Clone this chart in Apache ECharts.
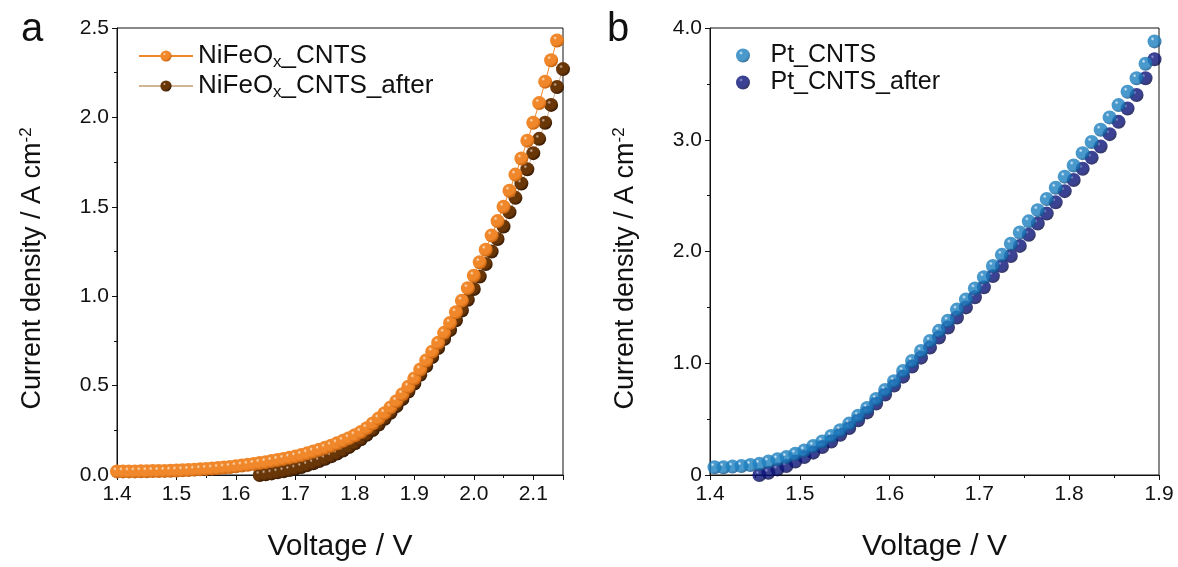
<!DOCTYPE html>
<html>
<head>
<meta charset="utf-8">
<script src="https://cdn.jsdelivr.net/npm/echarts@6/dist/echarts.min.js"></script>
<style>
  html, body { margin: 0; padding: 0; background: #fff; }
  #chart { width: 1178px; height: 567px; }
</style>
</head>
<body>
<div id="chart"></div>
<script>
// panel a: NiFeOx_CNTS
const voltA = [1.40, 1.41, 1.42, 1.43, 1.44, 1.45, 1.46, 1.47, 1.48, 1.49,
  1.50, 1.51, 1.52, 1.53, 1.54, 1.55, 1.56, 1.57, 1.58, 1.59,
  1.60, 1.61, 1.62, 1.63, 1.64, 1.65, 1.66, 1.67, 1.68, 1.69,
  1.70, 1.71, 1.72, 1.73, 1.74, 1.75, 1.76, 1.77, 1.78, 1.79,
  1.80, 1.81, 1.82, 1.83, 1.84, 1.85, 1.86, 1.87, 1.88, 1.89,
  1.90, 1.91, 1.92, 1.93, 1.94, 1.95, 1.96, 1.97, 1.98, 1.99,
  2.00, 2.01, 2.02, 2.03, 2.04, 2.05, 2.06, 2.07, 2.08, 2.09,
  2.10, 2.11, 2.12, 2.13, 2.14]
const curA = [0.020, 0.020, 0.020, 0.020, 0.021, 0.021, 0.022, 0.022, 0.023, 0.024,
  0.025, 0.026, 0.028, 0.030, 0.032, 0.034, 0.036, 0.039, 0.042, 0.045,
  0.049, 0.053, 0.057, 0.062, 0.067, 0.072, 0.078, 0.084, 0.090, 0.097,
  0.104, 0.112, 0.121, 0.131, 0.141, 0.152, 0.164, 0.177, 0.191, 0.206,
  0.222, 0.240, 0.262, 0.288, 0.316, 0.346, 0.378, 0.413, 0.452, 0.494,
  0.540, 0.59, 0.64, 0.69, 0.74, 0.795, 0.85, 0.91, 0.975, 1.045,
  1.115, 1.19, 1.26, 1.34, 1.42, 1.50, 1.59, 1.68, 1.77, 1.87,
  1.97, 2.08, 2.20, 2.32, 2.43]

const voltAAfter = [1.64, 1.65, 1.66, 1.67, 1.68, 1.69,
  1.70, 1.71, 1.72, 1.73, 1.74, 1.75, 1.76, 1.77, 1.78, 1.79,
  1.80, 1.81, 1.82, 1.83, 1.84, 1.85, 1.86, 1.87, 1.88, 1.89,
  1.90, 1.91, 1.92, 1.93, 1.94, 1.95, 1.96, 1.97, 1.98, 1.99,
  2.00, 2.01, 2.02, 2.03, 2.04, 2.05, 2.06, 2.07, 2.08, 2.09,
  2.10, 2.11, 2.12, 2.13, 2.14, 2.15]
const curAAfter = [0.000, 0.004, 0.009, 0.015, 0.021, 0.028,
  0.036, 0.045, 0.055, 0.066, 0.078, 0.091, 0.105, 0.120, 0.137, 0.156,
  0.177, 0.200, 0.225, 0.252, 0.282, 0.314, 0.348, 0.385, 0.425, 0.467,
  0.512, 0.56, 0.61, 0.66, 0.71, 0.76, 0.81, 0.865, 0.92, 0.98,
  1.04, 1.11, 1.18, 1.25, 1.32, 1.39, 1.47, 1.55, 1.63, 1.71,
  1.80, 1.88, 1.97, 2.07, 2.17, 2.27]

// panel b: Pt_CNTS
const voltB = [1.405, 1.415, 1.425, 1.435, 1.445, 1.455, 1.465, 1.475, 1.485, 1.495,
  1.505, 1.515, 1.525, 1.535, 1.545, 1.555, 1.565, 1.575, 1.585, 1.595,
  1.605, 1.615, 1.625, 1.635, 1.645, 1.655, 1.665, 1.675, 1.685, 1.695,
  1.705, 1.715, 1.725, 1.735, 1.745, 1.755, 1.765, 1.775, 1.785, 1.795,
  1.805, 1.815, 1.825, 1.835, 1.845, 1.855, 1.865, 1.875, 1.885, 1.895]
const curB = [0.07, 0.07, 0.075, 0.08, 0.09, 0.10, 0.12, 0.14, 0.16, 0.19,
  0.22, 0.26, 0.30, 0.35, 0.40, 0.46, 0.53, 0.60, 0.68, 0.76,
  0.84, 0.93, 1.02, 1.11, 1.20, 1.29, 1.38, 1.48, 1.57, 1.67,
  1.77, 1.87, 1.97, 2.07, 2.17, 2.27, 2.37, 2.47, 2.57, 2.67,
  2.77, 2.88, 2.98, 3.09, 3.20, 3.31, 3.43, 3.55, 3.68, 3.88]

const voltBAfter = [1.455, 1.465, 1.475, 1.485, 1.495,
  1.505, 1.515, 1.525, 1.535, 1.545, 1.555, 1.565, 1.575, 1.585, 1.595,
  1.605, 1.615, 1.625, 1.635, 1.645, 1.655, 1.665, 1.675, 1.685, 1.695,
  1.705, 1.715, 1.725, 1.735, 1.745, 1.755, 1.765, 1.775, 1.785, 1.795,
  1.805, 1.815, 1.825, 1.835, 1.845, 1.855, 1.865, 1.875, 1.885, 1.895]
const curBAfter = [0.00, 0.02, 0.05, 0.08, 0.12,
  0.16, 0.20, 0.25, 0.30, 0.36, 0.42, 0.49, 0.56, 0.64, 0.72,
  0.80, 0.88, 0.97, 1.05, 1.14, 1.23, 1.32, 1.41, 1.50, 1.59,
  1.68, 1.78, 1.87, 1.96, 2.05, 2.15, 2.25, 2.34, 2.44, 2.54,
  2.64, 2.74, 2.84, 2.94, 3.05, 3.16, 3.28, 3.40, 3.55, 3.72]

const FONT = '"Liberation Sans", Arial, sans-serif'

const zip = (xs, ys) => xs.map((x, i) => [x, ys[i]])

// glossy sphere look
const ball = (hi, mid, dark) => ({
  type: 'radial', x: 0.36, y: 0.32, r: 0.7,
  colorStops: [
    { offset: 0, color: hi },
    { offset: 0.2, color: mid },
    { offset: 0.7, color: mid },
    { offset: 1, color: dark }
  ]
})

const orangeBall = ball('#fde6cc', '#f0872a', '#c4600d')
const brownBall = ball('#d8bba4', '#693608', '#351802')
const blueBall = ball('#dff1ff', '#1c7fbf', '#0d4f85')
const navyBall = ball('#7480d0', '#0a1278', '#03073c')

const xAxisBase = (idx, min, max) => ({
  type: 'value',
  gridIndex: idx,
  min: min,
  max: max,
  interval: 0.1,
  name: 'Voltage / V',
  nameLocation: 'middle',
  nameGap: 57,
  nameTextStyle: { fontSize: 30, fontFamily: FONT, color: '#111' },
  axisLine: { show: true, onZero: false, lineStyle: { color: '#111', width: 1 } },
  axisTick: { show: true, inside: false, length: 5, lineStyle: { color: '#111' } },
  minorTick: { show: true, splitNumber: 2, length: 3, lineStyle: { color: '#111' } },
  splitLine: { show: false },
  axisLabel: {
    fontSize: 21, fontFamily: FONT, color: '#111', margin: 9,
    showMaxLabel: idx === 1,
    formatter: v => v.toFixed(1)
  }
})

const yAxisBase = (idx, max, interval, fmt) => ({
  type: 'value',
  gridIndex: idx,
  min: 0,
  max: max,
  interval: interval,
  name: 'Current density / A cm{sup|-2}',
  nameLocation: 'middle',
  nameGap: 69,
  nameTextStyle: {
    fontSize: 27, fontFamily: FONT, color: '#111',
    padding: [0, 34, 0, 0],
    rich: { sup: { fontSize: 17, fontFamily: FONT, color: '#111', padding: [0, 0, 13, 0] } }
  },
  axisLine: { show: true, onZero: false, lineStyle: { color: '#111', width: 1 } },
  axisTick: { show: true, inside: false, length: 5, lineStyle: { color: '#111' } },
  minorTick: { show: true, splitNumber: 2, length: 3, lineStyle: { color: '#111' } },
  splitLine: { show: false },
  axisLabel: { fontSize: 21, fontFamily: FONT, color: '#111', margin: 8, formatter: fmt }
})

const chart = echarts.init(document.getElementById('chart'), null, { renderer: 'canvas' })

const option = {
  animation: false,
  backgroundColor: '#fff',
  grid: [
    { left: 117, top: 28, width: 446, height: 447, show: true, borderColor: '#111', borderWidth: 1, backgroundColor: 'transparent' },
    { left: 710, top: 28, width: 449, height: 452, show: true, borderColor: '#111', borderWidth: 1, backgroundColor: 'transparent' }
  ],
  xAxis: [
    xAxisBase(0, 1.4, 2.15),
    xAxisBase(1, 1.4, 1.9)
  ],
  yAxis: [
    yAxisBase(0, 2.5, 0.5, v => v.toFixed(1)),
    yAxisBase(1, 4, 1, v => (v === 0 ? '0' : v.toFixed(1)))
  ],
  legend: [
    {
      data: ['NiFeOx_CNTS', 'NiFeOx_CNTS_after'],
      left: 133,
      top: 38,
      orient: 'vertical',
      itemWidth: 54,
      itemHeight: 14,
      itemGap: 2,
      formatter: name => '{t|NiFeO}{s|x}{t|' + name.slice(6) + '}',
      textStyle: {
        color: '#111',
        rich: {
          t: { fontSize: 26, fontFamily: FONT, color: '#111' },
          s: { fontSize: 17, fontFamily: FONT, color: '#111', padding: [13, 0, 0, 0] }
        }
      }
    },
    {
      data: ['Pt_CNTS', 'Pt_CNTS_after'],
      left: 731,
      top: 38,
      orient: 'vertical',
      itemWidth: 25,
      itemHeight: 14,
      itemGap: 2,
      textStyle: { fontSize: 25, fontFamily: FONT, color: '#111', padding: [0, 0, 0, 10] }
    }
  ],
  graphic: [
    { type: 'text', left: 21, top: 10, style: { text: 'a', fontSize: 40, fontFamily: FONT, fill: '#111' } },
    { type: 'text', left: 607, top: 10, style: { text: 'b', fontSize: 40, fontFamily: FONT, fill: '#111' } }
  ],
  series: [
    {
      name: 'NiFeOx_CNTS_after',
      type: 'line',
      xAxisIndex: 0,
      yAxisIndex: 0,
      data: zip(voltAAfter, curAAfter),
      symbol: 'circle',
      symbolSize: 14,
      showAllSymbol: true,
      itemStyle: { color: brownBall },
      lineStyle: { color: '#d2b497', width: 1 }
    },
    {
      name: 'NiFeOx_CNTS',
      type: 'line',
      xAxisIndex: 0,
      yAxisIndex: 0,
      data: zip(voltA, curA),
      symbol: 'circle',
      symbolSize: 14,
      showAllSymbol: true,
      itemStyle: { color: orangeBall },
      lineStyle: { color: '#f0872a', width: 1 }
    },
    {
      name: 'Pt_CNTS_after',
      type: 'scatter',
      xAxisIndex: 1,
      yAxisIndex: 1,
      data: zip(voltBAfter, curBAfter),
      symbol: 'circle',
      symbolSize: 14,
      itemStyle: { color: navyBall }
    },
    {
      name: 'Pt_CNTS',
      type: 'scatter',
      xAxisIndex: 1,
      yAxisIndex: 1,
      data: zip(voltB, curB),
      symbol: 'circle',
      symbolSize: 14,
      itemStyle: { color: blueBall }
    }
  ]
}

chart.setOption(option)
</script>
</body>
</html>
